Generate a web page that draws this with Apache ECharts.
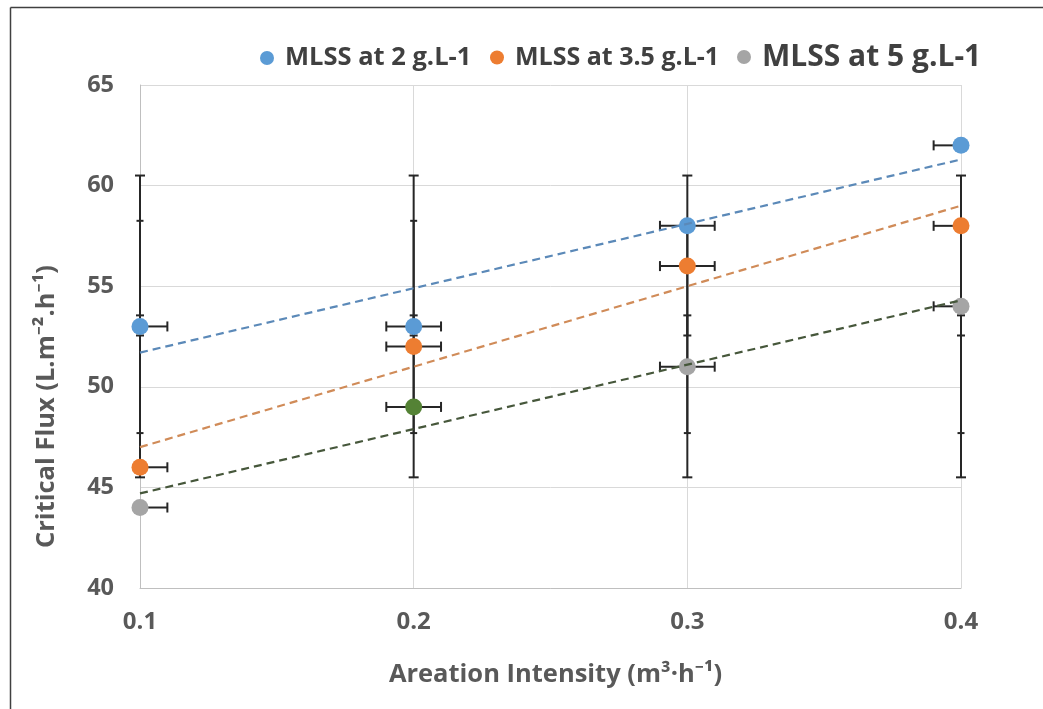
<!DOCTYPE html>
<html>
<head>
<meta charset="utf-8">
<title>Critical Flux vs Aeration Intensity</title>
<script src="https://cdn.jsdelivr.net/npm/echarts@6/dist/echarts.min.js"></script>
<style>
  html, body { margin: 0; padding: 0; background: #ffffff; }
  #chart { width: 1043px; height: 709px; }
</style>
</head>
<body>
<div id="chart"></div>
<script>
// Aeration intensity levels (m3/h)
const aeration = [0.1, 0.2, 0.3, 0.4];

// Critical flux measured for each MLSS concentration
const seriesNames = ['MLSS at 2 g.L-1', 'MLSS at 3.5 g.L-1', 'MLSS at 5 g.L-1'];
const flux2 = [53, 53, 58, 62];
const flux35 = [46, 52, 56, 58];
const flux5 = [44, 49, 51, 54];

// Horizontal error (± aeration) for every point
const aerationError = [0.01, 0.01, 0.01, 0.01];

// Vertical error ranges drawn at each aeration level
const outerLow = [45.5, 45.5, 45.5, 45.5];
const outerHigh = [60.5, 60.5, 60.5, 60.5];
const middleLow = [47.7, 47.7, 47.7, 47.7];
const middleHigh = [58.25, 58.25, 58.25, 58.25];
const innerLow = [52.55, 52.55, 52.55, 52.55];
const innerHigh = [53.55, 53.55, 53.55, 53.55];

// Axis ticks
const yTicks = { min: 40, max: 65, step: 5 };
const xTicks = { min: 0.1, max: 0.4, step: 0.1 };

const COLORS = ['#5b9bd5', '#ed7d31', '#a5a5a5'];
const TREND_COLORS = ['#5b89b8', '#d08b58', '#46573b'];
const ACCENT_POINT = '#548235';
const BAR_COLOR = '#262626';
const FONT = "'Open Sans', 'Noto Sans', sans-serif";

// Least-squares line through a series, evaluated at the ends of the x range
function trendLine(xs, ys) {
  const n = xs.length;
  const mx = xs.reduce((a, b) => a + b, 0) / n;
  const my = ys.reduce((a, b) => a + b, 0) / n;
  let sxy = 0, sxx = 0;
  for (let i = 0; i < n; i++) {
    sxy += (xs[i] - mx) * (ys[i] - my);
    sxx += (xs[i] - mx) * (xs[i] - mx);
  }
  const slope = sxy / sxx;
  const x0 = Math.min(...xs), x1 = Math.max(...xs);
  return [[x0, my + slope * (x0 - mx)], [x1, my + slope * (x1 - mx)]];
}

// Vertical error bar with caps
function verticalBar(capHalf) {
  return function (params, api) {
    const x = api.value(0);
    const lo = api.coord([x, api.value(1)]);
    const hi = api.coord([x, api.value(2)]);
    const style = { stroke: BAR_COLOR, lineWidth: 2 };
    return {
      type: 'group',
      children: [
        { type: 'line', shape: { x1: lo[0], y1: lo[1], x2: hi[0], y2: hi[1] }, style },
        { type: 'line', shape: { x1: lo[0] - capHalf, y1: lo[1], x2: lo[0] + capHalf, y2: lo[1] }, style },
        { type: 'line', shape: { x1: hi[0] - capHalf, y1: hi[1], x2: hi[0] + capHalf, y2: hi[1] }, style }
      ]
    };
  };
}

// Horizontal error bar, cut at the plot edges
function horizontalBar(params, api) {
  const x = api.value(0), y = api.value(1), dx = api.value(2);
  const capHalf = 5;
  const style = { stroke: BAR_COLOR, lineWidth: 2 };
  const leftX = Math.max(x - dx, xTicks.min);
  const rightX = Math.min(x + dx, xTicks.max);
  const a = api.coord([leftX, y]);
  const b = api.coord([rightX, y]);
  const children = [{ type: 'line', shape: { x1: a[0], y1: a[1], x2: b[0], y2: b[1] }, style }];
  if (x - dx >= xTicks.min - 1e-9) {
    children.push({ type: 'line', shape: { x1: a[0], y1: a[1] - capHalf, x2: a[0], y2: a[1] + capHalf }, style });
  }
  if (x + dx <= xTicks.max + 1e-9) {
    children.push({ type: 'line', shape: { x1: b[0], y1: b[1] - capHalf, x2: b[0], y2: b[1] + capHalf }, style });
  }
  return { type: 'group', children };
}

const allFlux = [flux2, flux35, flux5];

const series = [];

// Vertical error bars
[[outerLow, outerHigh, 5], [middleLow, middleHigh, 3.5], [innerLow, innerHigh, 4]].forEach(([lo, hi, cap]) => {
  series.push({
    type: 'custom',
    silent: true,
    z: 2,
    renderItem: verticalBar(cap),
    data: aeration.map((x, i) => [x, lo[i], hi[i]])
  });
});

// Horizontal error bars
allFlux.forEach(vals => {
  series.push({
    type: 'custom',
    silent: true,
    z: 2,
    renderItem: horizontalBar,
    data: aeration.map((x, i) => [x, vals[i], aerationError[i]])
  });
});

// Measured points
allFlux.forEach((vals, s) => {
  series.push({
    name: seriesNames[s],
    type: 'scatter',
    symbol: 'circle',
    symbolSize: 17,
    clip: false,
    z: 3,
    itemStyle: { color: COLORS[s], opacity: 1 },
    data: aeration.map((x, i) => {
      const item = { value: [x, vals[i]] };
      if (s === 2 && i === 1) item.itemStyle = { color: ACCENT_POINT };
      return item;
    })
  });
});

// Linear trend lines
allFlux.forEach((vals, s) => {
  series.push({
    type: 'line',
    silent: true,
    z: 4,
    showSymbol: false,
    symbol: 'none',
    lineStyle: { color: TREND_COLORS[s], width: 2.2, type: [8, 5] },
    data: trendLine(aeration, vals)
  });
});

const legendLeft = [255, 485, 732];
const legendSize = [25.5, 25, 30];
const legendTop = [40, 40, 37];
const legends = seriesNames.map((name, s) => ({
  data: [{ name, icon: 'circle' }],
  left: legendLeft[s],
  top: legendTop[s],
  itemWidth: 26,
  itemHeight: 14,
  selectedMode: false,
  textStyle: {
    fontFamily: FONT,
    fontWeight: 'bold',
    fontSize: legendSize[s],
    color: '#404040'
  }
}));

const chart = echarts.init(document.getElementById('chart'), null, { renderer: 'canvas' });
chart.setOption({
  backgroundColor: '#ffffff',
  animation: false,
  legend: legends,
  grid: { left: 140, right: 82, top: 85, bottom: 121, containLabel: false },
  xAxis: {
    type: 'value',
    min: xTicks.min,
    max: xTicks.max,
    interval: xTicks.step,
    name: 'Areation Intensity (m³·h⁻¹)',
    nameLocation: 'middle',
    nameGap: 74,
    nameTextStyle: { fontFamily: FONT, fontWeight: 'bold', fontSize: 25.5, color: '#595959', padding: [0, 0, 0, 10] },
    axisLine: { show: true, lineStyle: { color: '#bfbfbf', width: 1 } },
    axisTick: { show: false },
    splitLine: { show: true, lineStyle: { color: '#d9d9d9', width: 1 } },
    axisLabel: {
      margin: 22,
      fontFamily: FONT,
      fontWeight: 'bold',
      fontSize: 24,
      color: '#595959',
      formatter: v => v.toFixed(1)
    }
  },
  yAxis: {
    type: 'value',
    min: yTicks.min,
    max: yTicks.max,
    interval: yTicks.step,
    name: 'Critical Flux (L.m⁻².h⁻¹)',
    nameLocation: 'middle',
    nameGap: 80,
    nameRotate: 90,
    nameTextStyle: { fontFamily: FONT, fontWeight: 'bold', fontSize: 25.5, color: '#595959', padding: [0, 140, 0, 0] },
    axisLine: { show: true, lineStyle: { color: '#bfbfbf', width: 1 } },
    axisTick: { show: false },
    splitLine: { show: true, lineStyle: { color: '#d9d9d9', width: 1 } },
    axisLabel: {
      margin: 26,
      fontFamily: FONT,
      fontWeight: 'bold',
      fontSize: 23.5,
      color: '#595959'
    }
  },
  graphic: [
    { type: 'line', shape: { x1: 10.5, y1: 7.5, x2: 10.5, y2: 709 }, style: { stroke: '#404040', lineWidth: 1.5 } },
    { type: 'line', shape: { x1: 10.5, y1: 7.5, x2: 1043, y2: 7.5 }, style: { stroke: '#404040', lineWidth: 1.5 } }
  ],
  series
});
</script>
</body>
</html>
